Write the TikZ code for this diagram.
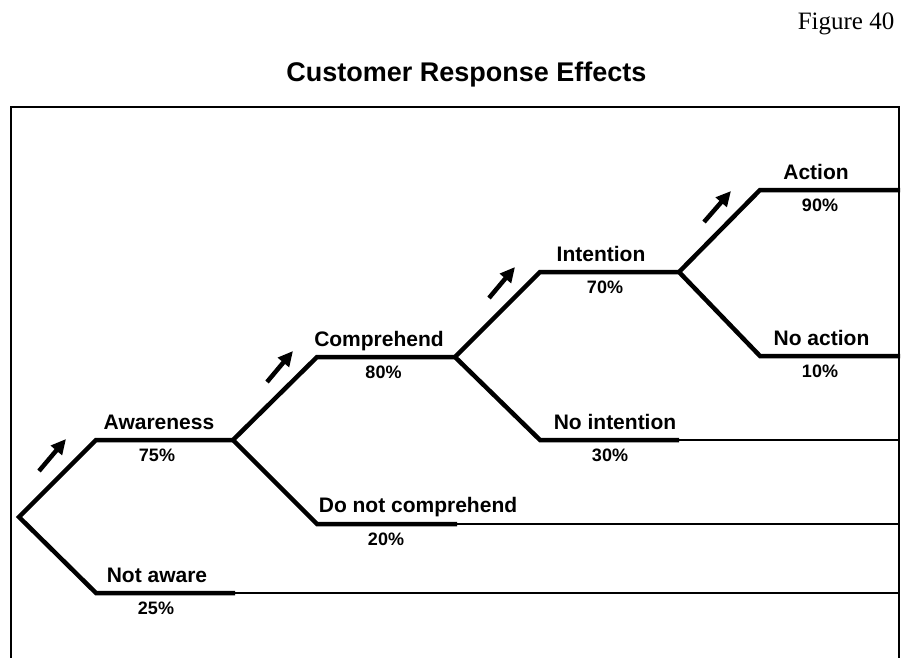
\documentclass[tikz,border=0pt]{standalone}
\usepackage{fontspec}
\setmainfont{Liberation Serif}
\setsansfont{Liberation Sans}
\usetikzlibrary{arrows.meta}
\begin{document}
\begin{tikzpicture}[x=1pt,y=-1pt,
  branch/.style={line width=4.5pt, line join=miter},
  tailline/.style={line width=1.4pt},
  frame/.style={line width=2pt},
  lbl/.style={anchor=base, inner sep=0pt, font=\sffamily\bfseries\fontsize{21}{25}\selectfont},
  pct/.style={anchor=base, inner sep=0pt, font=\sffamily\bfseries\fontsize{18}{22}\selectfont},
  flow/.style={line width=4.5pt, -{Triangle[length=15pt,width=14pt]}},
]
\useasboundingbox (0,0) rectangle (907,658);
% header
\node[anchor=base, inner sep=0pt, font=\rmfamily\fontsize{25}{30}\selectfont] (fig) at (846,30) {Figure 40};
\node[anchor=base, inner sep=0pt, font=\sffamily\bfseries\fontsize{27}{32}\selectfont] (title) at (466.5,82) {Customer Response Effects};
% frame
\coordinate (fbl) at (11,658);
\coordinate (ftl) at (11,107);
\coordinate (ftr) at (899,107);
\coordinate (fbr) at (899,658);
\draw[frame] (fbl) -- (ftl) -- (ftr) -- (fbr);
% tree points
\coordinate (root) at (19,517);
\coordinate (aw1) at (96,440);  \coordinate (aw2) at (233,440);
\coordinate (nw1) at (96,593);  \coordinate (nw2) at (235,593);
\coordinate (co1) at (317,357); \coordinate (co2) at (455,357);
\coordinate (dc1) at (317,524); \coordinate (dc2) at (457,524);
\coordinate (in1) at (540,272); \coordinate (in2) at (679,272);
\coordinate (ni1) at (540,440); \coordinate (ni2) at (679,440);
\coordinate (ac1) at (760,190); \coordinate (ac2) at (900,190);
\coordinate (na1) at (760,356); \coordinate (na2) at (900,356);
\coordinate (nwE) at (899,593);
\coordinate (dcE) at (899,524);
\coordinate (niE) at (899,440);
% thin continuation lines
\draw[tailline] (nw2) -- (nwE);
\draw[tailline] (dc2) -- (dcE);
\draw[tailline] (ni2) -- (niE);
% branches
\draw[branch] (aw2) -- (aw1) -- (root) -- (nw1) -- (nw2);
\draw[branch] (co2) -- (co1) -- (aw2) -- (dc1) -- (dc2);
\draw[branch] (in2) -- (in1) -- (co2) -- (ni1) -- (ni2);
\draw[branch] (ac2) -- (ac1) -- (in2) -- (na1) -- (na2);
% flow arrows
\coordinate (a1s) at (39,471);  \coordinate (a1e) at (66,439);
\coordinate (a2s) at (267,382); \coordinate (a2e) at (293,351);
\coordinate (a3s) at (489,298); \coordinate (a3e) at (515,267);
\coordinate (a4s) at (704,222); \coordinate (a4e) at (731,191);
\draw[flow] (a1s) -- (a1e);
\draw[flow] (a2s) -- (a2e);
\draw[flow] (a3s) -- (a3e);
\draw[flow] (a4s) -- (a4e);
% labels
\node[lbl] (lAw) at (159,429) {Awareness};
\node[pct] (pAw) at (157,461) {75\%};
\node[lbl] (lNw) at (157,582) {Not aware};
\node[pct] (pNw) at (156,614) {25\%};
\node[lbl] (lCo) at (379,346) {Comprehend};
\node[pct] (pCo) at (383.5,378) {80\%};
\node[lbl] (lDc) at (418,512) {Do not comprehend};
\node[pct] (pDc) at (386,545) {20\%};
\node[lbl] (lIn) at (601,261) {Intention};
\node[pct] (pIn) at (605,293) {70\%};
\node[lbl] (lNi) at (615,429) {No intention};
\node[pct] (pNi) at (610,461) {30\%};
\node[lbl] (lAc) at (816,179) {Action};
\node[pct] (pAc) at (820,211) {90\%};
\node[lbl] (lNa) at (821.5,345) {No action};
\node[pct] (pNa) at (820,377) {10\%};
\end{tikzpicture}
\end{document}
